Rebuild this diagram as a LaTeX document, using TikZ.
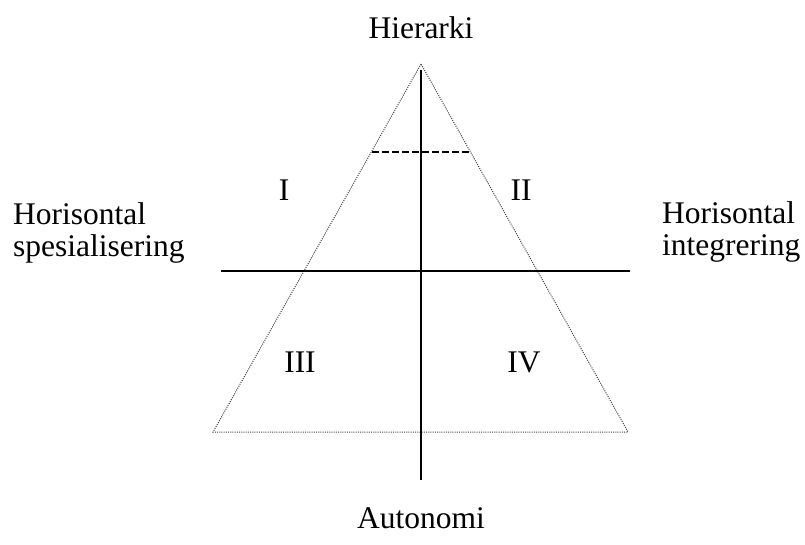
\documentclass[tikz,border=0pt]{standalone}
\usepackage{fontspec}
\setmainfont{Liberation Serif}
\usetikzlibrary{positioning}
\tikzset{
  axis/.style     = {line width=1.2pt, black},
  edge/.style     = {line width=1pt, gray!50!black, dash pattern=on 1pt off 1.2pt},
  cut/.style      = {line width=1.3pt, dash pattern=on 6.5pt off 3.5pt},
  quadrant/.style = {font=\fontsize{31.5}{32}\selectfont, inner sep=0pt},
  pole/.style     = {font=\fontsize{31.5}{32}\selectfont, inner sep=0pt},
  side/.style     = {font=\fontsize{31.5}{32.5}\selectfont, align=left, inner sep=0pt},
}
\begin{document}
\begin{tikzpicture}[x=1pt,y=-1pt]
  \useasboundingbox (0,0) rectangle (805,544);
  % triangle corners
  \coordinate (top) at (421,64);
  \coordinate (bl) at (213,432);
  \coordinate (br) at (628,432);
  \draw[edge] (top) -- (bl) -- (br) -- cycle;
  % axes
  \coordinate (vtop) at (421,70);
  \coordinate (vbot) at (421,480);
  \coordinate (hl) at (221,271);
  \coordinate (hr) at (630,271);
  \draw[axis] (vtop) -- (vbot);
  \draw[axis] (hl) -- (hr);
  % dashed cut near the top
  \coordinate (cl) at (372,152);
  \coordinate (cr) at (470,152);
  \draw[cut] (cl) -- (cr);

  \node[pole] (hier) at (421,28) {Hierarki};
  \node[pole] (auto) at (421,518) {Autonomi};
  \node[quadrant] (q1) at (284,190) {I};
  \node[quadrant] (q2) at (521,190) {II};
  \node[quadrant] (q3) at (300,362) {III};
  \node[quadrant] (q4) at (524,362) {IV};
  \node[side,anchor=west] (spes) at (13,233) {Horisontal\\spesialisering};
  \node[side,anchor=west] (integ) at (662,232) {Horisontal\\integrering};
\end{tikzpicture}
\end{document}
